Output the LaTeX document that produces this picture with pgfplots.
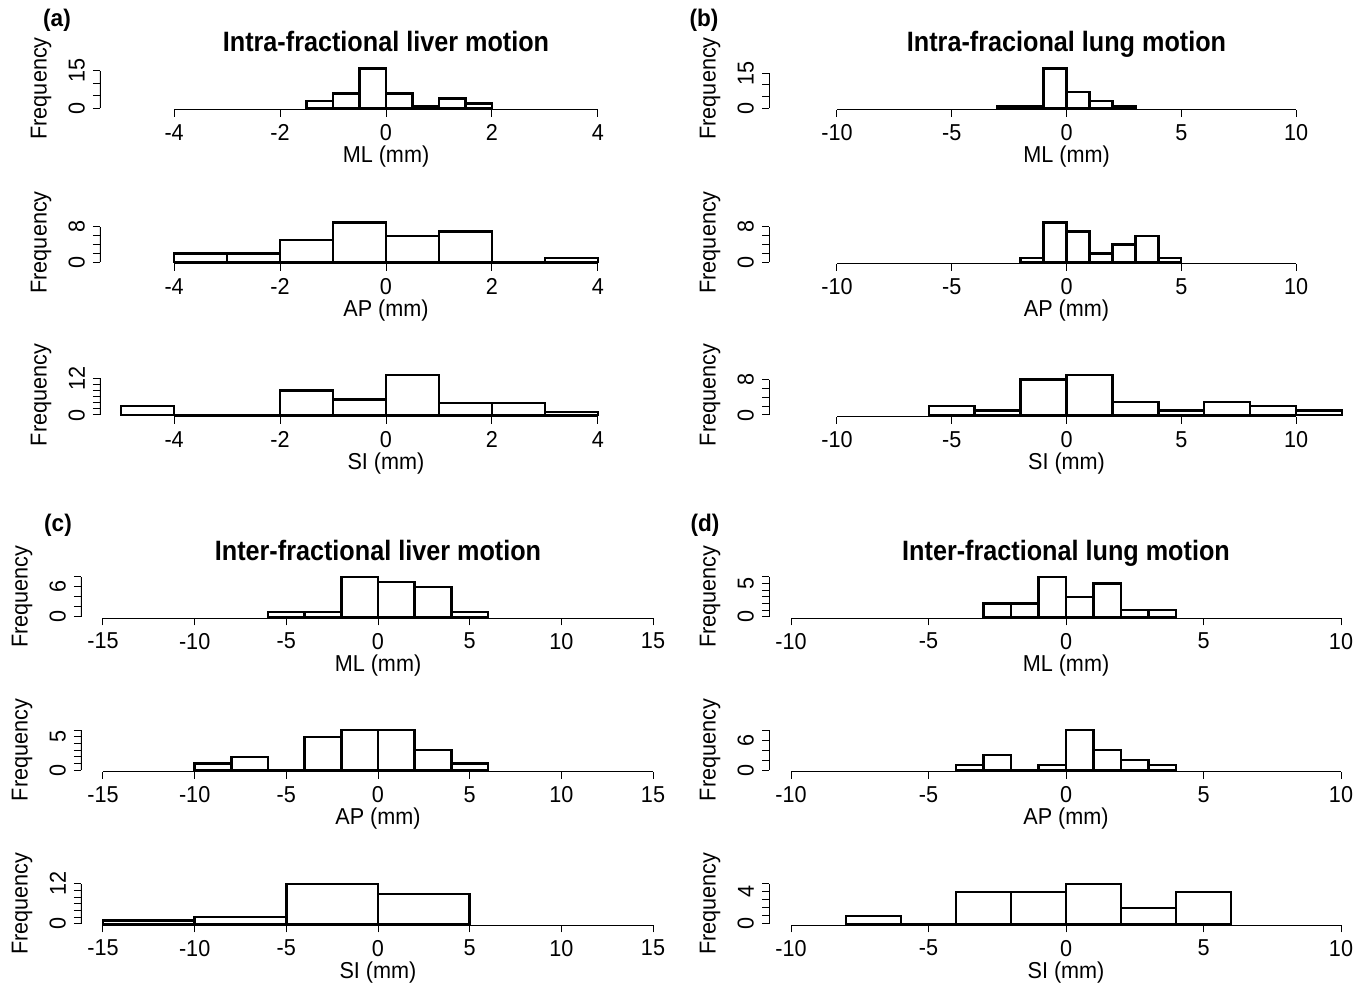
\documentclass[border=0pt]{standalone}
\usepackage{fontspec}
\setmainfont{Liberation Sans}[FakeStretch=0.94]
\newfontfamily\titlefont{Liberation Sans}[FakeStretch=0.9]
\usepackage{pgfplots}
\pgfplotsset{compat=1.18}

% R-style axis segments: x from first to last tick, y from 0 to last tick
\newcommand{\raxes}[3]{%
  \draw[line width=0.6pt] ({axis cs:#1,0} |- {axis description cs:0,0}) -- ({axis cs:#2,0} |- {axis description cs:0,0});
  \draw[line width=0.6pt] ({axis description cs:0,0} |- {axis cs:0,0}) -- ({axis description cs:0,0} |- {axis cs:0,#3});
}

\pgfplotsset{
  rhist/.style={
    scale only axis, height=21.5pt, anchor=south west,
    axis x line*=bottom, axis y line*=left, axis line style={draw=none},
    tick align=outside, major tick length=3.5pt,
    tick style={black, line width=0.5pt},
    minor tick num=0, scaled ticks=false,
    tick label style={font=\fontsize{11.5}{13}\selectfont},
    /pgf/number format/assume math mode=true,
    xticklabel style={yshift=-0.3pt},
    yticklabel style={xshift=-0.5pt, rotate=90, anchor=south},
    ylabel={Frequency},
    ylabel style={at={(axis description cs:0,0.5)}, anchor=center, yshift=29.5pt, font=\fontsize{11.5}{13}\selectfont},
    xlabel style={at={(axis description cs:0.5,0)}, anchor=center, yshift=-23.5pt, font=\fontsize{11.5}{13}\selectfont},
    title style={at={(axis description cs:0.5,1)}, anchor=base, yshift=1.5pt, font=\titlefont\bfseries\fontsize{14}{16}\selectfont},
  },
  colA/.style={rhist, width=286pt, xmin=-5.4, xmax=5.4, xtick={-4,-2,0,2,4}},
  colB/.style={rhist, width=297.5pt, xmin=-12.96, xmax=12.96, xtick={-10,-5,0,5,10}},
  colC/.style={rhist, width=297pt, xmin=-16.2, xmax=16.2, xtick={-15,-10,-5,0,5,10,15}},
  colD/.style={rhist, width=297pt, xmin=-10.8, xmax=10.8, xtick={-10,-5,0,5,10}},
  bars/.style={ybar interval, draw=black, fill=white, line width=1.2pt},
}

\begin{document}
\begin{tikzpicture}
\useasboundingbox (0,0) rectangle (679.5pt,492pt);

\node[font=\bfseries\fontsize{12}{14}\selectfont] at (28.5pt,482pt) {(a)};
\node[font=\bfseries\fontsize{12}{14}\selectfont] at (352pt,482pt) {(b)};
\node[font=\bfseries\fontsize{12}{14}\selectfont] at (29pt,229.5pt) {(c)};
\node[font=\bfseries\fontsize{12}{14}\selectfont] at (352.5pt,229.5pt) {(d)};

% ---------- (a) intra-fractional liver ----------
\begin{axis}[colA, at={(50pt,437.05pt)}, ymin=-0.64, ymax=16.64,
  ytick={0,5,10,15}, yticklabels={0,,,15},
  xlabel={ML (mm)}, title={Intra-fractional liver motion}]
\addplot[bars] coordinates {(-1.5,3) (-1,6) (-0.5,16) (0,6) (0.5,1) (1,4) (1.5,2) (2,2)};
\raxes{-4}{4}{15}
\end{axis}

\begin{axis}[colA, at={(50pt,360.05pt)}, ymin=-0.36, ymax=9.36,
  ytick={0,2,4,6,8}, yticklabels={0,,,,8}, xlabel={AP (mm)}]
\addplot[bars] coordinates {(-4,2) (-3,2) (-2,5) (-1,9) (0,6) (1,7) (2,0) (3,1) (4,1)};
\raxes{-4}{4}{8}
\end{axis}

\begin{axis}[colA, at={(50pt,283.7pt)}, ymin=-0.52, ymax=13.52,
  ytick={0,2,4,6,8,10,12}, yticklabels={0,,,,,,12}, xlabel={SI (mm)}]
\addplot[bars] coordinates {(-5,3) (-4,0) (-3,0) (-2,8) (-1,5) (0,13) (1,4) (2,4) (3,1) (4,1)};
\raxes{-4}{4}{12}
\end{axis}

% ---------- (b) intra-fractional lung ----------
\begin{axis}[colB, at={(384.5pt,437.05pt)}, ymin=-0.68, ymax=17.68,
  ytick={0,5,10,15}, yticklabels={0,,,15},
  xlabel={ML (mm)}, title={Intra-fracional lung motion}]
\addplot[bars] coordinates {(-3,1) (-2,1) (-1,17) (0,7) (1,3) (2,1) (3,1)};
\raxes{-10}{10}{15}
\end{axis}

\begin{axis}[colB, at={(384.5pt,360.05pt)}, ymin=-0.36, ymax=9.36,
  ytick={0,2,4,6,8}, yticklabels={0,,,,8}, xlabel={AP (mm)}]
\addplot[bars] coordinates {(-2,1) (-1,9) (0,7) (1,2) (2,4) (3,6) (4,1) (5,1)};
\raxes{-10}{10}{8}
\end{axis}

\begin{axis}[colB, at={(384.5pt,283.7pt)}, ymin=-0.36, ymax=9.36,
  ytick={0,2,4,6,8}, yticklabels={0,,,,8}, xlabel={SI (mm)}]
\addplot[bars] coordinates {(-6,2) (-4,1) (-2,8) (0,9) (2,3) (4,1) (6,3) (8,2) (10,1) (12,1)};
\raxes{-10}{10}{8}
\end{axis}

% ---------- (c) inter-fractional liver ----------
\begin{axis}[colC, at={(40.5pt,182.85pt)}, ymin=-0.32, ymax=8.32,
  ytick={0,2,4,6,8}, yticklabels={0,,,6,},
  xlabel={ML (mm)}, title={Inter-fractional liver motion}]
\addplot[bars] coordinates {(-6,1) (-4,1) (-2,8) (0,7) (2,6) (4,1) (6,1)};
\raxes{-15}{15}{8}
\end{axis}

\begin{axis}[colC, at={(40.5pt,106.2pt)}, ymin=-0.24, ymax=6.24,
  ytick={0,1,2,3,4,5,6}, yticklabels={0,,,,,5,}, xlabel={AP (mm)}]
\addplot[bars] coordinates {(-10,1) (-8,2) (-6,0) (-4,5) (-2,6) (0,6) (2,3) (4,1) (6,1)};
\raxes{-15}{15}{6}
\end{axis}

\begin{axis}[colC, at={(40.5pt,29.35pt)}, ymin=-0.48, ymax=12.48,
  ytick={0,2,4,6,8,10,12}, yticklabels={0,,,,,,12}, xlabel={SI (mm)}]
\addplot[bars] coordinates {(-15,1) (-10,2) (-5,12) (0,9) (5,9)};
\raxes{-15}{15}{12}
\end{axis}

% ---------- (d) inter-fractional lung ----------
\begin{axis}[colD, at={(384.5pt,182.85pt)}, ymin=-0.24, ymax=6.24,
  ytick={0,1,2,3,4,5,6}, yticklabels={0,,,,,5,},
  xlabel={ML (mm)}, title={Inter-fractional lung motion}]
\addplot[bars] coordinates {(-3,2) (-2,2) (-1,6) (0,3) (1,5) (2,1) (3,1) (4,1)};
\raxes{-10}{10}{6}
\end{axis}

\begin{axis}[colD, at={(384.5pt,106.2pt)}, ymin=-0.32, ymax=8.32,
  ytick={0,2,4,6,8}, yticklabels={0,,,6,}, xlabel={AP (mm)}]
\addplot[bars] coordinates {(-4,1) (-3,3) (-2,0) (-1,1) (0,8) (1,4) (2,2) (3,1) (4,1)};
\raxes{-10}{10}{8}
\end{axis}

\begin{axis}[colD, at={(384.5pt,29.35pt)}, ymin=-0.2, ymax=5.2,
  ytick={0,1,2,3,4,5}, yticklabels={0,,,,4,}, xlabel={SI (mm)}]
\addplot[bars] coordinates {(-8,1) (-6,0) (-4,4) (-2,4) (0,5) (2,2) (4,4) (6,4)};
\raxes{-10}{10}{5}
\end{axis}
\end{tikzpicture}
\end{document}
